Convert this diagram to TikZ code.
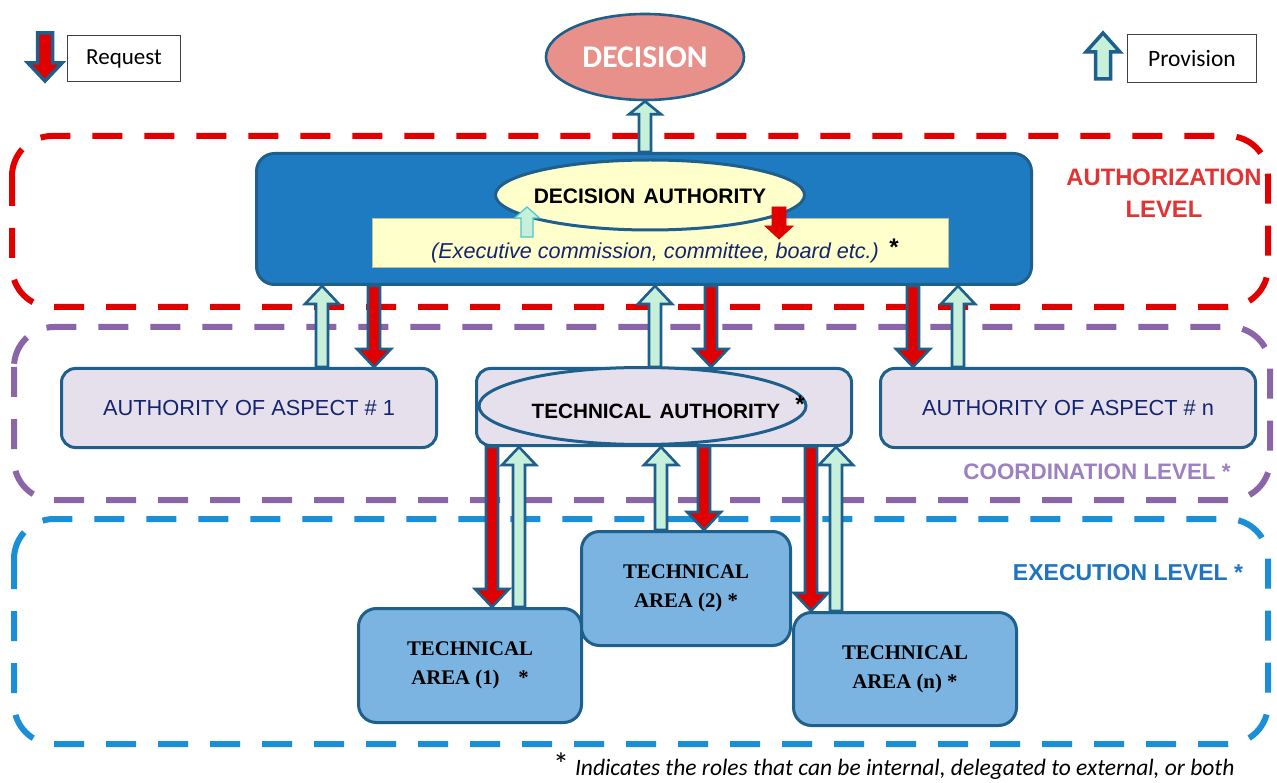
\documentclass[tikz,border=0pt]{standalone}
\usepackage{fontspec}
\setmainfont{Liberation Sans}
\newfontfamily\calfont{Carlito}
\newfontfamily\serfont{Liberation Serif}
\usetikzlibrary{calc,shapes.geometric}
\definecolor{bord}{HTML}{1F5F8B}
\definecolor{dabox}{HTML}{1E7BC1}
\definecolor{lyellow}{HTML}{FFFFCC}
\definecolor{lav}{HTML}{E6E0EC}
\definecolor{areablue}{HTML}{7BB3E1}
\definecolor{reqred}{HTML}{E00000}
\definecolor{mint}{HTML}{C6F0DA}
\definecolor{dashred}{HTML}{E00000}
\definecolor{dashpurple}{HTML}{8A66A8}
\definecolor{dashblue}{HTML}{1B8ED8}
\definecolor{navy}{HTML}{14246E}
\definecolor{decfill}{HTML}{E8918B}
\definecolor{coordtext}{HTML}{9C80C0}
\definecolor{exectext}{HTML}{1F74C0}
\definecolor{authtext}{HTML}{E23434}
\definecolor{smallcyan}{HTML}{4CC8C8}
\tikzset{
  levelframe/.style={line width=6pt, dash pattern=on 30pt off 22pt, rounded corners=40pt},
  arrowline/.style={draw=bord, line width=2.6pt, line join=miter},
  legendbox/.style={draw=black!75, line width=1pt, fill=white, inner sep=0pt, anchor=north west},
  aspectbox/.style={draw=bord, line width=3pt, fill=lav, rounded corners=14pt, minimum width=375pt, minimum height=79pt, inner sep=0pt, anchor=north west, text=navy, font=\fontsize{21.8}{25}\selectfont},
  areabox/.style={draw=bord, line width=3pt, fill=areablue, rounded corners=18pt, inner sep=0pt, anchor=north west, align=center, font=\serfont\bfseries\fontsize{20.8}{29}\selectfont},
  leveltext/.style={align=center, inner sep=0pt},
}
\newcommand\blockarrow[7][]{%
  \draw[arrowline,fill=#2,#1] let \p1=(#3), \p2=(#4),
    \n1={\y2-ifthenelse(\y2>\y1,1,-1)*#7} in
    (\x1-#5,\y1) -- (\x1-#5,\n1) -- (\x1-#6,\n1) -- (\x1,\y2) -- (\x1+#6,\n1) -- (\x1+#5,\n1) -- (\x1+#5,\y1) -- cycle;}
\begin{document}
\begin{tikzpicture}[x=1pt,y=-1pt]
\useasboundingbox (0,0) rectangle (1277,783);
\fill[white] (0,0) rectangle (1277,783);

% level frames
\draw[levelframe, draw=dashred] (12,136) rectangle (1268,307);
\draw[levelframe, draw=dashpurple] (14,327) rectangle (1270,500);
\draw[levelframe, draw=dashblue] (14,519) rectangle (1268,744);

% level labels
\node[leveltext, text=authtext, font=\bfseries\fontsize{23.8}{32}\selectfont] (authlbl) at (1164,193) {AUTHORIZATION\\LEVEL};
\node[leveltext, text=coordtext, font=\bfseries\fontsize{22.4}{26}\selectfont] (coordlbl) at (1097,472) {COORDINATION LEVEL *};
\node[leveltext, text=exectext, font=\bfseries\fontsize{23}{26}\selectfont] (execlbl) at (1128,573) {EXECUTION LEVEL *};

% legend
\node[legendbox, minimum width=113pt, minimum height=46pt, font=\calfont\fontsize{23}{27}\selectfont] (reqbox) at (67,35) {Request};
\node[legendbox, minimum width=129pt, minimum height=48pt, font=\calfont\fontsize{23.5}{27}\selectfont] (provbox) at (1127,34) {Provision};
\coordinate (reqtop) at (45,33);
\coordinate (reqtip) at (45,81);
\coordinate (provbot) at (1103,79);
\coordinate (provtip) at (1103,33);
\blockarrow[line width=3.5pt]{reqred}{reqtop}{reqtip}{7.5pt}{17pt}{18pt}
\blockarrow[line width=3.5pt]{mint}{provbot}{provtip}{7.5pt}{17pt}{19pt}

% decision
\node[ellipse, draw=bord, line width=2.6pt, fill=decfill, minimum width=198pt, minimum height=86pt, inner sep=0pt, text=white, font=\calfont\bfseries\fontsize{31.5}{36}\selectfont] (dec) at (645,57) {DECISION};

% decision authority block
\node[draw=bord, line width=3pt, fill=dabox, rounded corners=18pt, minimum width=775pt, minimum height=131pt, inner sep=0pt, anchor=north west] (da) at (255,152) {};
\node[draw=lyellow!75!black, line width=0.6pt, fill=lyellow, minimum width=576pt, minimum height=49pt, inner sep=0pt, anchor=north west] (execrect) at (372,218) {};
\node[text=navy, font=\itshape\fontsize{21.6}{24}\selectfont, inner sep=0pt] (exectxt) at (655,253) {(Executive commission, committee, board etc.)};
\node[font=\bfseries\fontsize{24}{24}\selectfont, inner sep=0pt] (execstar) at (894,247) {*};
\node[ellipse, draw=bord, line width=3pt, fill=lyellow, minimum width=309pt, minimum height=70pt, inner sep=0pt] (daell) at (650,195) {};
\node[font=\bfseries\fontsize{21}{24}\selectfont, inner sep=0pt] (datxt) at (650,196) {DECISION\hspace{0.4em}AUTHORITY};

\coordinate (sp1) at (527,237);
\coordinate (sp2) at (527,207);
\coordinate (sr1) at (779,207);
\coordinate (sr2) at (779,239);
\blockarrow[draw=smallcyan, line width=1.2pt]{mint}{sp1}{sp2}{6pt}{12.5pt}{11pt}
\blockarrow[draw=reqred, line width=0.8pt]{reqred}{sr1}{sr2}{7pt}{14pt}{13pt}

% coordination level
\node[aspectbox] (asp1) at (60,367) {AUTHORITY OF ASPECT \# 1};
\node[aspectbox, minimum height=77pt] (ta) at (475,367) {};
\node[ellipse, draw=bord, line width=3pt, fill=lav, minimum width=327pt, minimum height=77pt, inner sep=0pt] (taell) at (642.5,406) {};
\node[font=\bfseries\fontsize{20.7}{24}\selectfont, inner sep=0pt] (tatxt) at (656,411) {TECHNICAL\hspace{0.4em}AUTHORITY};
\node[font=\bfseries\fontsize{24}{24}\selectfont, inner sep=0pt] (tastar) at (800,404) {*};
\node[aspectbox] (aspn) at (879,367) {AUTHORITY OF ASPECT \# n};

% execution level
\node[areabox, minimum width=223pt, minimum height=114pt] (a1) at (357,607) {TECHNICAL\\AREA (1)\hspace{0.9em}*};
\node[areabox, minimum width=223pt, minimum height=113pt] (an) at (792,611) {TECHNICAL\\AREA (n) *};
\node[areabox, minimum width=209pt, minimum height=114pt] (a2) at (580,530) {TECHNICAL\\AREA (2) *};

% arrows level 1 <-> 2
\blockarrow{mint}{da.north -| dec.south}{dec.south}{6pt}{16pt}{13pt}
\blockarrow{mint}{322,0 |- asp1.north}{322,0 |- da.south}{6pt}{17pt}{18pt}
\blockarrow{reqred}{374,0 |- da.south}{374,0 |- asp1.north}{6pt}{17pt}{18pt}
\blockarrow{mint}{655,0 |- ta.north}{655,0 |- da.south}{6pt}{17pt}{18pt}
\blockarrow{reqred}{711,0 |- da.south}{711,0 |- ta.north}{6pt}{17pt}{18pt}
\blockarrow{reqred}{913,0 |- da.south}{913,0 |- aspn.north}{6pt}{17pt}{18pt}
\blockarrow{mint}{958,0 |- aspn.north}{958,0 |- da.south}{6pt}{17pt}{18pt}

% arrows level 2 <-> 3
\blockarrow{reqred}{492,0 |- ta.south}{492,0 |- a1.north}{6pt}{17pt}{18pt}
\blockarrow{mint}{519,0 |- a1.north}{519,0 |- ta.south}{6pt}{17pt}{18pt}
\blockarrow{mint}{661,0 |- a2.north}{661,0 |- ta.south}{6pt}{17pt}{18pt}
\blockarrow{reqred}{704,0 |- ta.south}{704,0 |- a2.north}{6pt}{17pt}{18pt}
\blockarrow{reqred}{811,0 |- ta.south}{811,0 |- an.north}{6pt}{17pt}{18pt}
\blockarrow{mint}{836,0 |- an.north}{836,0 |- ta.south}{6pt}{17pt}{18pt}

% footnote
\node[anchor=base west, inner sep=0pt, font=\calfont\fontsize{23.5}{28}\selectfont] (foot) at (553,775) {{\fontsize{32}{32}\selectfont *}\hspace{0.25em}\textit{Indicates the roles that can be internal, delegated to external, or both}};
\end{tikzpicture}
\end{document}
